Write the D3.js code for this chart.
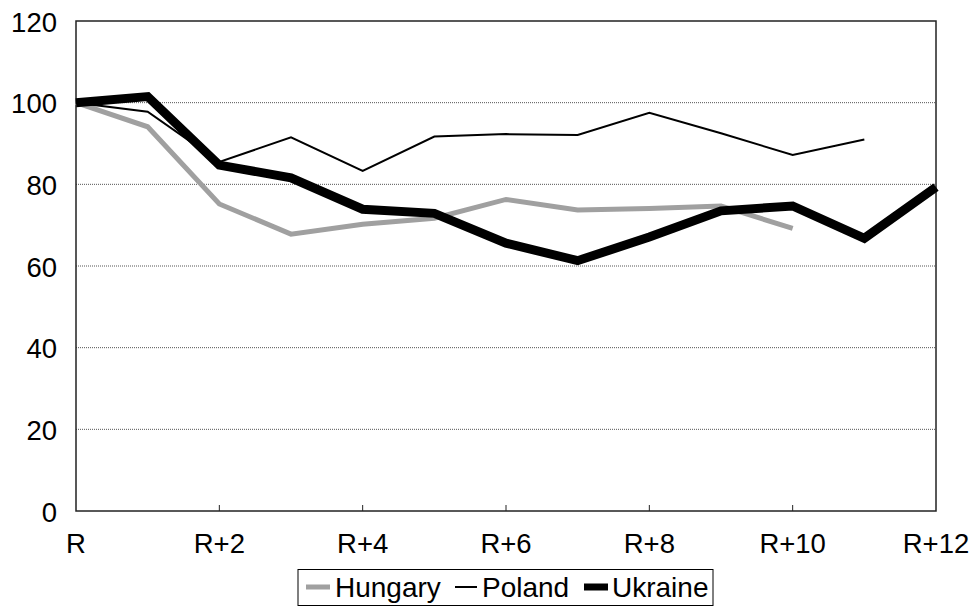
<!DOCTYPE html>
<html><head><meta charset="utf-8">
<script src="https://cdn.jsdelivr.net/npm/d3@7"></script>
<style>body{margin:0;background:#fff}svg{display:block;font-family:"Liberation Sans",Arial,sans-serif}</style>
</head><body><svg id="c" width="975" height="607"></svg>
<script>
const categories = ["R","R+1","R+2","R+3","R+4","R+5","R+6","R+7","R+8","R+9","R+10","R+11","R+12"];
const hungary = [100, 94.1, 75.2, 67.8, 70.2, 71.7, 76.3, 73.7, 74.1, 74.7, 69.2, null, null];
const poland  = [100, 97.8, 85.5, 91.5, 83.3, 91.7, 92.3, 92.1, 97.5, 92.5, 87.2, 91.0, null];
const ukraine = [100, 101.5, 84.7, 81.6, 73.9, 72.9, 65.6, 61.3, 67.1, 73.5, 74.7, 66.8, 79.3];
const yTicks = [0, 20, 40, 60, 80, 100, 120];
const gridTicks = [20, 40, 60, 80, 100];
const xLabelIdx = [0, 2, 4, 6, 8, 10, 12];
const series = [
  {name: "Hungary", values: hungary, color: "#a0a0a0", width: 5},
  {name: "Poland", values: poland, color: "#000", width: 2},
  {name: "Ukraine", values: ukraine, color: "#000", width: 9}
];

const L = 76, R = 936, T = 21, B = 511;
const svg = d3.select("#c");
const x = d3.scalePoint().domain(categories).range([L, R]);
const y = d3.scaleLinear().domain([0, 120]).range([B, T]);

// gridlines
svg.append("g").selectAll("line").data(gridTicks).join("line")
  .attr("x1", L).attr("x2", R).attr("y1", d => y(d)).attr("y2", d => y(d))
  .attr("stroke", "#555").attr("stroke-width", 1).attr("stroke-dasharray", "1,1");

// plot border
svg.append("rect").attr("x", L).attr("y", T).attr("width", R - L).attr("height", B - T)
  .attr("fill", "none").attr("stroke", "#222").attr("stroke-width", 1.5);

// x ticks (inside)
svg.append("g").selectAll("line").data(xLabelIdx.slice(1, -1)).join("line")
  .attr("x1", i => x(categories[i])).attr("x2", i => x(categories[i]))
  .attr("y1", B).attr("y2", B - 6).attr("stroke", "#222").attr("stroke-width", 1);

// y labels
svg.append("g").selectAll("text").data(yTicks).join("text")
  .attr("x", 57).attr("y", d => y(d) + 10.5)
  .attr("text-anchor", "end").attr("font-size", 27.5).text(d => d);

// x labels
svg.append("g").selectAll("text").data(xLabelIdx).join("text")
  .attr("x", i => x(categories[i])).attr("y", 553)
  .attr("text-anchor", "middle").attr("font-size", 27.5).text(i => categories[i]);

// lines
const line = d3.line().defined(d => d != null).x((d, i) => x(categories[i])).y(d => y(d));
svg.append("g").selectAll("path").data(series).join("path")
  .attr("d", s => line(s.values)).attr("fill", "none")
  .attr("stroke", s => s.color).attr("stroke-width", s => s.width)
  .attr("stroke-linejoin", "miter").attr("stroke-miterlimit", 3);

// legend
const lg = svg.append("g");
lg.append("rect").attr("x", 298).attr("y", 569.5).attr("width", 415).attr("height", 36)
  .attr("fill", "#fff").attr("stroke", "#000").attr("stroke-width", 1);
const legendItems = [
  {s: series[0], x0: 306, x1: 330, tx: 335, h: 5},
  {s: series[1], x0: 455, x1: 477, tx: 482, h: 2},
  {s: series[2], x0: 584, x1: 608, tx: 612, h: 7}
];
legendItems.forEach(it => {
  lg.append("rect").attr("x", it.x0).attr("y", 587 - it.h / 2).attr("width", it.x1 - it.x0).attr("height", it.h)
    .attr("fill", it.s.color);
  lg.append("text").attr("x", it.tx).attr("y", 597).attr("font-size", 28).text(it.s.name);
});
</script></body></html>
